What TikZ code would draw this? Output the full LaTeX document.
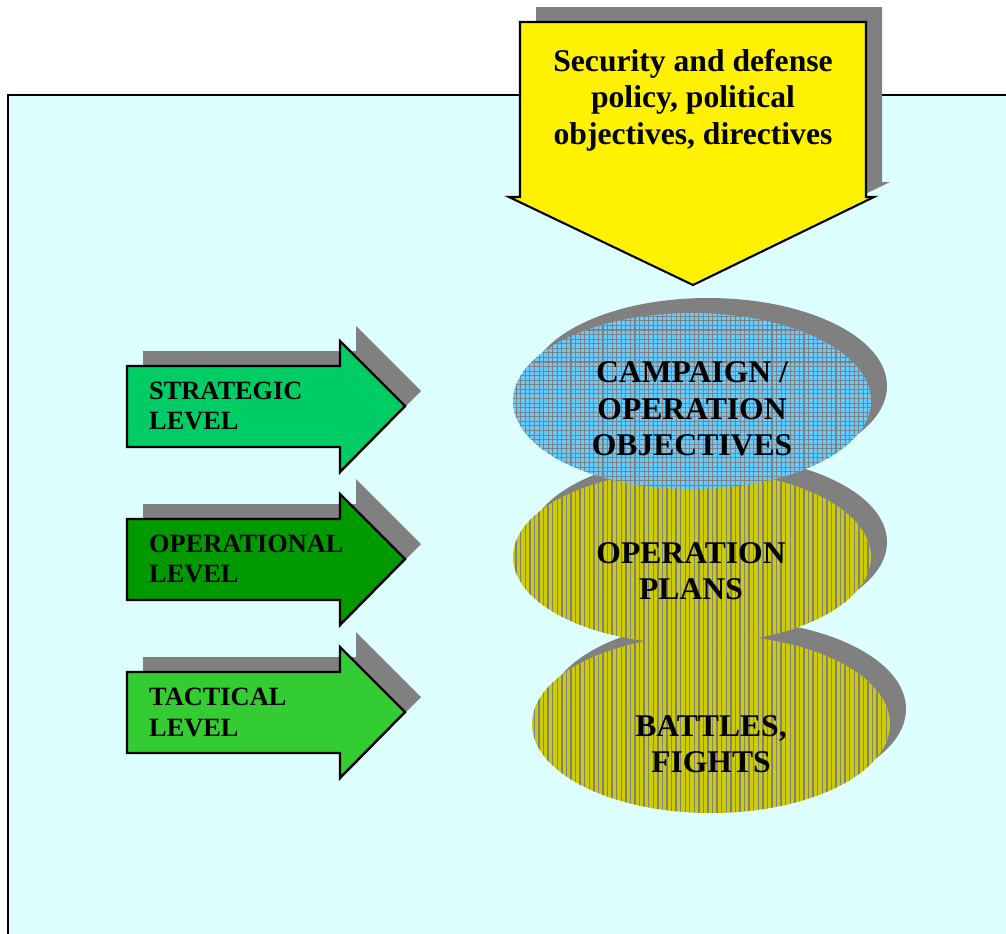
\documentclass[tikz,border=0pt]{standalone}
\usepackage{fontspec}
\setmainfont{Liberation Serif}
\usetikzlibrary{patterns.meta}
\definecolor{paleCyan}{RGB}{221,255,255}
\definecolor{shadowGray}{RGB}{128,128,128}
\definecolor{stratGreen}{RGB}{0,204,102}
\definecolor{operGreen}{RGB}{0,153,0}
\definecolor{tactGreen}{RGB}{51,204,51}
\definecolor{oliveYellow}{RGB}{204,204,0}
\definecolor{skyBlue}{RGB}{102,204,255}

\begin{document}
\begin{tikzpicture}[x=0.02cm,y=-0.02cm,
  levelarrow/.style={draw=black,line width=1.4pt},
  leveltext/.style={anchor=west,align=left,font=\bfseries\fontsize{15}{17.6}\selectfont},
  bigtext/.style={align=center,font=\bfseries\fontsize{18}{20.8}\selectfont},
  stripes/.style={pattern={Lines[angle=90,distance=2.6pt,line width=0.8pt]}, pattern color=shadowGray},
  meshes/.style={pattern={Hatch[angle=0,distance=2.6pt,line width=0.6pt]}, pattern color=shadowGray}]
\useasboundingbox (0,0) rectangle (1006,933);
\fill[white] (0,0) rectangle (1006,933);
\draw[fill=paleCyan,line width=1.2pt] (8,95) rectangle (1030,960);

\fill[shadowGray, shift={(16,-15)}] (520,22) -- (866,22) -- (866,197) -- (874,197) -- (693,285) -- (509,197) -- (520,197) -- cycle;
\draw[fill=yellow, line width=1.2pt] (520,22) -- (866,22) -- (866,197) -- (874,197) -- (693,285) -- (509,197) -- (520,197) -- cycle;
\node[bigtext] (policy) at (693,100) {Security and defense\\policy, political\\objectives, directives};

\fill[shadowGray, shift={(16,-15)}] (127,366) -- (340,366) -- (340,341) -- (405,406) -- (340,472) -- (340,447) -- (127,447) -- cycle;
\draw[levelarrow, fill=stratGreen] (127,366) -- (340,366) -- (340,341) -- (405,406) -- (340,472) -- (340,447) -- (127,447) -- cycle;
\fill[shadowGray, shift={(16,138)}] (127,366) -- (340,366) -- (340,341) -- (405,406) -- (340,472) -- (340,447) -- (127,447) -- cycle;
\draw[levelarrow, fill=operGreen, shift={(0,153)}] (127,366) -- (340,366) -- (340,341) -- (405,406) -- (340,472) -- (340,447) -- (127,447) -- cycle;
\fill[shadowGray, shift={(16,291)}] (127,366) -- (340,366) -- (340,341) -- (405,406) -- (340,472) -- (340,447) -- (127,447) -- cycle;
\draw[levelarrow, fill=tactGreen, shift={(0,306)}] (127,366) -- (340,366) -- (340,341) -- (405,406) -- (340,472) -- (340,447) -- (127,447) -- cycle;
\node[leveltext] (strategic) at (143,406) {STRATEGIC\\LEVEL};
\node[leveltext] (operational) at (143,559) {OPERATIONAL\\LEVEL};
\node[leveltext] (tactical) at (143,712) {TACTICAL\\LEVEL};

\fill[shadowGray] (727,709) ellipse [x radius=179, y radius=89];
\path[fill=oliveYellow, postaction={stripes}] (711,724) ellipse [x radius=179, y radius=89];
\fill[shadowGray] (708,542) ellipse [x radius=179, y radius=87];
\path[fill=oliveYellow, postaction={stripes}] (692,557) ellipse [x radius=179, y radius=87];
\fill[shadowGray] (708,386) ellipse [x radius=179, y radius=88];
\path[fill=skyBlue, postaction={meshes}] (692,401) ellipse [x radius=179, y radius=88];
\node[bigtext] (campaign) at (692,409) {CAMPAIGN /\\OPERATION\\OBJECTIVES};
\node[bigtext] (plans) at (691,571) {OPERATION\\PLANS};
\node[bigtext] (battles) at (711,744) {BATTLES,\\FIGHTS};
\end{tikzpicture}
\end{document}
